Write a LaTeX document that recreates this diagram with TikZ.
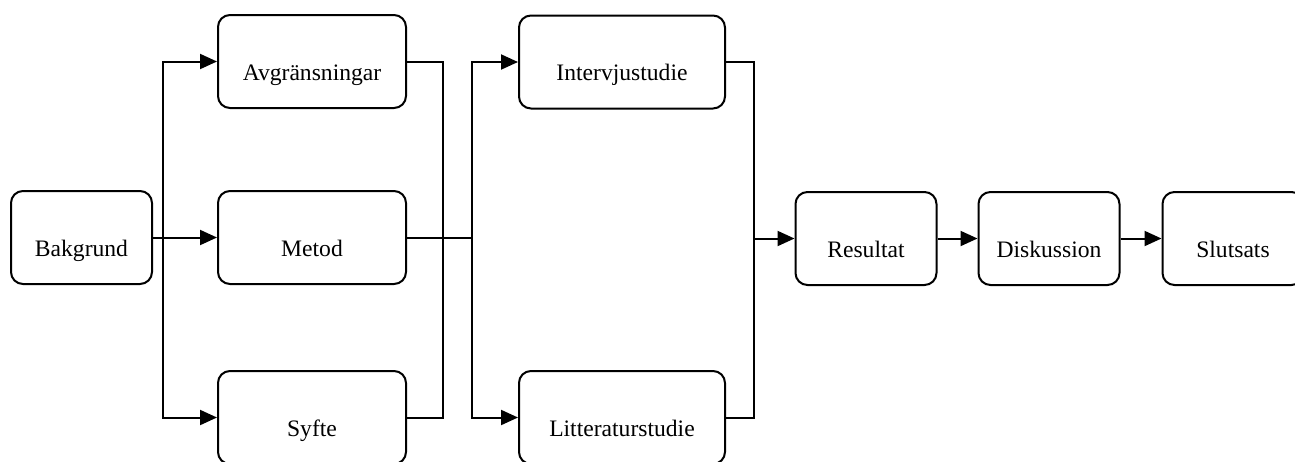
\documentclass[tikz,border=0pt]{standalone}
\usepackage{fontspec}
\setmainfont{Liberation Serif}
\usetikzlibrary{arrows.meta}
\begin{document}
\begin{tikzpicture}[x=0.5pt,y=-0.5pt,
  box/.style={draw, line width=1pt, rounded corners=6pt, minimum height=46.5pt,
    inner sep=0pt, text height=18.5pt, text depth=0pt,
    font=\fontsize{11.8pt}{14pt}\selectfont},
  narrow/.style={box, minimum width=70.5pt},
  wide/.style={box, minimum width=94pt},
  wider/.style={box, minimum width=103pt},
  line/.style={line width=1pt},
  arr/.style={line width=1pt, -{Triangle[length=8.5pt,width=7.5pt]}}]
\useasboundingbox (0,0) rectangle (1295,461);
\node[narrow] (bak) at (81.5,237.5) {Bakgrund};
\node[wide] (avg) at (312,61.5) {Avgränsningar};
\node[wide] (met) at (312,237.5) {Metod};
\node[wide] (syf) at (312,417.5) {Syfte};
\node[wider] (int) at (622,62) {Intervjustudie};
\node[wider] (lit) at (622,417.5) {Litteraturstudie};
\node[narrow] (res) at (866,238.5) {Resultat};
\node[narrow] (dis) at (1049,238.5) {Diskussion};
\node[narrow] (slu) at (1233,238.5) {Slutsats};
\coordinate (b1) at (163,237.5);
\coordinate (m2) at (472,237.5);
\coordinate (r1) at (753,238.5);
\draw[arr] (bak.east) -- (met.west);
\draw[arr] (b1) |- (avg.west);
\draw[arr] (b1) |- (syf.west);
\draw[line] (avg.east) -- ++(36,0) |- (syf.east);
\draw[line] (met.east) -- (m2);
\draw[arr] (m2) |- (int.west);
\draw[arr] (m2) |- (lit.west);
\draw[line] (int.east) -- ++(28,0) |- (lit.east);
\draw[arr] (r1) -- (res.west);
\draw[arr] (res.east) -- (dis.west);
\draw[arr] (dis.east) -- (slu.west);
\end{tikzpicture}
\end{document}
